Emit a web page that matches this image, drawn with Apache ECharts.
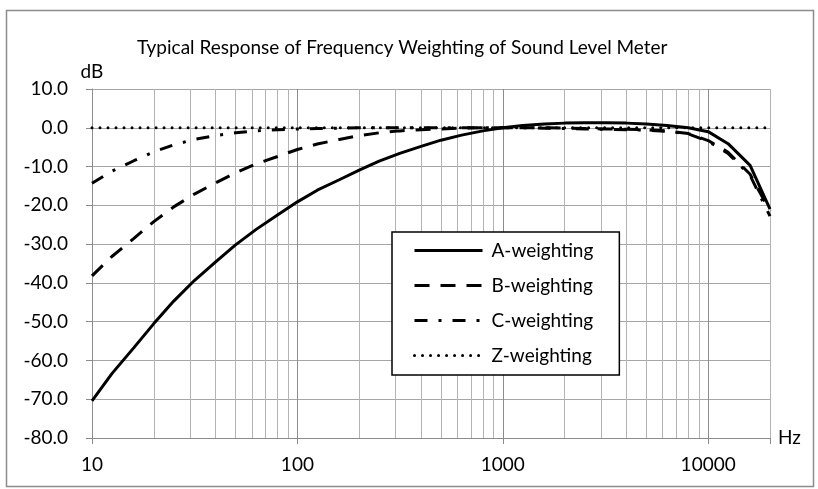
<!DOCTYPE html>
<html>
<head>
<meta charset="utf-8">
<script src="https://cdn.jsdelivr.net/npm/echarts@6/dist/echarts.min.js"></script>
<style>
  html, body { margin: 0; padding: 0; background: #fff; }
  #chart { width: 818px; height: 489px; }
</style>
</head>
<body>
<div id="chart"></div>
<script>
// 1/3-octave band centre frequencies (Hz)
const freqs = [
  10, 12.5, 16, 20, 25, 31.5, 40, 50, 63, 80,
  100, 125, 160, 200, 250, 315, 400, 500, 630, 800,
  1000, 1250, 1600, 2000, 2500, 3150, 4000, 5000, 6300, 8000,
  10000, 12500, 16000, 20000
]
const aWeighting = [
  -70.4, -63.4, -56.7, -50.5, -44.7, -39.4, -34.6, -30.2, -26.2, -22.5,
  -19.1, -16.1, -13.4, -10.9, -8.6, -6.6, -4.8, -3.2, -1.9, -0.8,
  0.0, 0.6, 1.0, 1.2, 1.3, 1.3, 1.2, 1.0, 0.6, 0.0,
  -1.0, -4.1, -9.7, -21.0
]
const bWeighting = [
  -38.2, -33.2, -28.5, -24.2, -20.4, -17.1, -14.2, -11.6, -9.3, -7.4,
  -5.6, -4.2, -3.0, -2.0, -1.3, -0.8, -0.5, -0.3, -0.1, 0.0,
  0.0, 0.0, 0.0, -0.1, -0.2, -0.3, -0.4, -0.5, -0.8, -1.5,
  -3.3, -6.3, -12.0, -21.5
]
const cWeighting = [
  -14.3, -11.2, -8.5, -6.2, -4.4, -3.0, -2.0, -1.3, -0.8, -0.5,
  -0.3, -0.2, -0.1, 0.0, 0.0, 0.0, 0.0, 0.0, 0.0, 0.0,
  0.0, 0.0, -0.1, -0.2, -0.3, -0.4, -0.5, -0.6, -0.9, -1.6,
  -3.5, -6.6, -12.3, -22.8
]
const zWeighting = freqs.map(() => 0.0)
// minor vertical grid lines (2..9 x each decade) and the right edge
const minorGrid = [
  20, 30, 40, 50, 60, 70, 80, 90,
  200, 300, 400, 500, 600, 700, 800, 900,
  2000, 3000, 4000, 5000, 6000, 7000, 8000, 9000,
  20000
]
const seriesNames = ['A-weighting', 'B-weighting', 'C-weighting', 'Z-weighting']

const FONT = 'Lato'
const FS = 19
const pairs = vals => freqs.map((f, i) => [f, vals[i]])

const chart = echarts.init(document.getElementById('chart'))

const lineSeries = (name, vals, style) => ({
  name: name,
  type: 'line',
  data: pairs(vals),
  symbol: 'none',
  showSymbol: false,
  smooth: false,
  z: 3,
  lineStyle: Object.assign({ color: '#000', width: 3 }, style),
  itemStyle: { color: '#000' },
  emphasis: { disabled: true },
  animation: false
})

chart.setOption({
  animation: false,
  title: {
    text: 'Typical Response of Frequency Weighting of Sound Level Meter',
    left: 132,
    top: 33,
    textStyle: { fontFamily: FONT, fontSize: FS, fontWeight: 'normal', color: '#000' }
  },
  grid: { left: 92, right: 48, top: 89, bottom: 51 },
  legend: {
    data: seriesNames,
    orient: 'vertical',
    left: 392,
    top: 232,
    padding: [9, 26, 10, 21],
    itemWidth: 68,
    itemHeight: 14,
    itemGap: 16,
    backgroundColor: '#fff',
    borderColor: '#000',
    borderWidth: 1.5,
    borderRadius: 0,
    itemStyle: { opacity: 0, borderWidth: 0 },
    lineStyle: { width: 3 },
    textStyle: { fontFamily: FONT, fontSize: FS, color: '#000', lineHeight: 14, padding: [0, 0, 0, 4] }
  },
  xAxis: {
    type: 'log',
    logBase: 10,
    min: 10,
    max: 20000,
    name: 'Hz',
    nameLocation: 'end',
    nameGap: 8,
    nameTextStyle: { fontFamily: FONT, fontSize: FS, color: '#000', verticalAlign: 'middle' },
    axisLine: { onZero: false, lineStyle: { color: '#8c8c8c', width: 1 } },
    axisTick: { show: true, length: 6, lineStyle: { color: '#8c8c8c' } },
    axisLabel: {
      margin: 17,
      fontFamily: FONT,
      fontSize: FS,
      color: '#000',
      formatter: v => {
        const l = Math.log10(v)
        return Math.abs(l - Math.round(l)) < 1e-6 ? String(Math.round(v)) : ''
      }
    },
    splitLine: { show: true, lineStyle: { color: '#8c8c8c', width: 1 } }
  },
  yAxis: {
    type: 'value',
    min: -80,
    max: 10,
    interval: 10,
    name: 'dB',
    nameLocation: 'end',
    nameGap: 8,
    nameTextStyle: { fontFamily: FONT, fontSize: FS, color: '#000', align: 'center' },
    axisLine: { show: true, onZero: false, lineStyle: { color: '#8c8c8c', width: 1 } },
    axisTick: { show: true, length: 6, lineStyle: { color: '#8c8c8c' } },
    axisLabel: {
      margin: 24,
      fontFamily: FONT,
      fontSize: FS,
      color: '#000',
      formatter: v => v.toFixed(1)
    },
    splitLine: { show: true, lineStyle: { color: '#a6a6a6', width: 1 } }
  },
  series: [
    {
      name: 'minor-grid',
      type: 'line',
      data: [],
      silent: true,
      z: 1,
      markLine: {
        silent: true,
        z: 1,
        symbol: ['none', 'none'],
        label: { show: false },
        animation: false,
        lineStyle: { color: '#b4b4b4', width: 1, type: 'solid' },
        emphasis: { disabled: true },
        data: minorGrid.map(f => ({ xAxis: f }))
      }
    },
    lineSeries('A-weighting', aWeighting, { type: 'solid' }),
    lineSeries('B-weighting', bWeighting, { type: [15, 11] }),
    lineSeries('C-weighting', cWeighting, { type: [13, 11, 3, 11] }),
    lineSeries('Z-weighting', zWeighting, { type: [0.01, 8], cap: 'round', width: 3 })
  ],
  graphic: [
    {
      type: 'rect',
      left: 4,
      top: 8,
      silent: true,
      shape: { width: 807, height: 476 },
      style: { fill: 'none', stroke: '#8c8c8c', lineWidth: 1.5 }
    }
  ]
})
</script>
</body>
</html>
